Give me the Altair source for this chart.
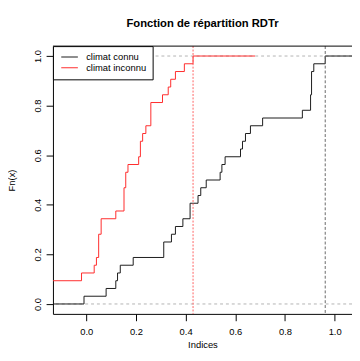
import altair as alt
import pandas as pd
import numpy as np

TITLE = "Fonction de répartition RDTr"
X_TITLE = "Indices"
Y_TITLE = "Fn(x)"
series_names = ["climat connu", "climat inconnu"]
series_colors = ["#1a1a1a", "#ff2a2a"]
x_ticks = [0.0, 0.2, 0.4, 0.6, 0.8, 1.0]
y_ticks = [0.0, 0.2, 0.4, 0.6, 0.8, 1.0]

known = [-0.009, 0.080, 0.119, 0.126, 0.137, 0.189, 0.312, 0.312, 0.343, 0.359,
         0.389, 0.418, 0.418, 0.450, 0.461, 0.483, 0.539, 0.546, 0.559, 0.621,
         0.629, 0.641, 0.661, 0.710, 0.870, 0.903, 0.903, 0.907, 0.907, 0.907,
         0.916, 0.962]
unknown = [-1.13, -0.60, -0.30, -0.019, 0.032, 0.041, 0.050, 0.050, 0.050, 0.060,
           0.060, 0.119, 0.152, 0.152, 0.152, 0.159, 0.159, 0.168, 0.211, 0.218,
           0.218, 0.227, 0.240, 0.260, 0.260, 0.260, 0.307, 0.330, 0.340, 0.359,
           0.395, 0.430]

X_DOMAIN = [-0.134, 1.0698]
Y_DOMAIN = [-0.04, 1.04]
FONT = "Liberation Sans"


def ecdf_rows(values, name):
    v = np.sort(np.array(values, dtype=float))
    n = len(v)
    knots = np.unique(v)
    dr = max(0.08 * (v[-1] - v[0]), float(np.median(np.diff(knots))))
    rows = [{"x": float(v[0] - 2 * dr), "F": 0.0, "series": name}]
    for k in knots:
        rows.append({"x": float(k), "F": float(np.sum(v <= k)) / n, "series": name})
    rows.append({"x": float(v[-1] + 2 * dr), "F": 1.0, "series": name})
    return rows


steps = pd.DataFrame(ecdf_rows(known, series_names[0]) + ecdf_rows(unknown, series_names[1]))

x_scale = alt.Scale(domain=X_DOMAIN, nice=False, zero=False)
y_scale = alt.Scale(domain=Y_DOMAIN, nice=False, zero=False)

x_axis = alt.Axis(values=x_ticks, format=".1f", title=X_TITLE, grid=False,
                  domain=True, domainColor="black", domainWidth=1,
                  tickSize=7, tickColor="black", labelPadding=6, labelFont=FONT,
                  labelFontSize=9.6, labelColor="black", labelFlush=False,
                  titleFont=FONT, titleFontSize=9.6, titleFontWeight="normal",
                  titleColor="black", titlePadding=4)
y_axis = alt.Axis(values=y_ticks, format=".1f", title=Y_TITLE, grid=False,
                  domain=True, domainColor="black", domainWidth=1,
                  tickSize=7, tickColor="black", labelPadding=4, labelFont=FONT,
                  labelFontSize=9.6, labelColor="black", labelAngle=-90,
                  labelAlign="center", labelBaseline="bottom", labelFlush=False,
                  titleFont=FONT, titleFontSize=9.6, titleFontWeight="normal",
                  titleColor="black", titlePadding=16)

x_enc = alt.X("x:Q", scale=x_scale, axis=x_axis)
y_enc = alt.Y("F:Q", scale=y_scale, axis=y_axis)

# top edge of the plot box (the right edge lies outside the picture)
top_edge = alt.Chart(pd.DataFrame({"F": [Y_DOMAIN[1]]})).mark_rule(
    color="black", strokeWidth=1
).encode(y=y_enc)

hlines = alt.Chart(pd.DataFrame({"F": [0.0, 1.0]})).mark_rule(
    color="#b3b3b3", strokeDash=[3, 3], strokeWidth=1
).encode(y=y_enc)

lines = alt.Chart(steps).mark_line(
    interpolate="step-after", strokeWidth=1, clip=True
).encode(
    x=x_enc,
    y=y_enc,
    color=alt.Color(
        "series:N",
        scale=alt.Scale(domain=series_names, range=series_colors),
        legend=alt.Legend(
            title=None, orient="top-left", offset=0, padding=6,
            strokeColor="black", fillColor="white", cornerRadius=0,
            symbolType="stroke", symbolSize=289, symbolStrokeWidth=1,
            symbolOffset=2, clipHeight=10.3, rowPadding=0, labelOffset=8,
            labelFont=FONT, labelFontSize=9.6, labelColor="black", labelLimit=200,
        ),
    ),
    order="x:Q",
)

vline_known = alt.Chart(pd.DataFrame({"x": [max(known)]})).mark_rule(
    color="#666666", strokeDash=[3, 2], strokeWidth=1
).encode(x=x_enc)
vline_unknown = alt.Chart(pd.DataFrame({"x": [max(unknown)]})).mark_rule(
    color="#ff6060", strokeDash=[2, 1.5], strokeWidth=1
).encode(x=x_enc)

chart = alt.layer(hlines, lines, vline_unknown, vline_known, top_edge).properties(
    width=306,
    height=274,
    autosize=alt.AutoSizeParams(type="none"),
    padding={"left": 46, "top": 35, "right": 0, "bottom": 35},
    title=alt.Title(TITLE, font=FONT, fontSize=11.5, fontWeight="bold", color="black",
                    anchor="middle", offset=17, baseline="top"),
).configure_view(stroke=None)

chart.save("out.html", embed_options={"renderer": "svg", "actions": False})
